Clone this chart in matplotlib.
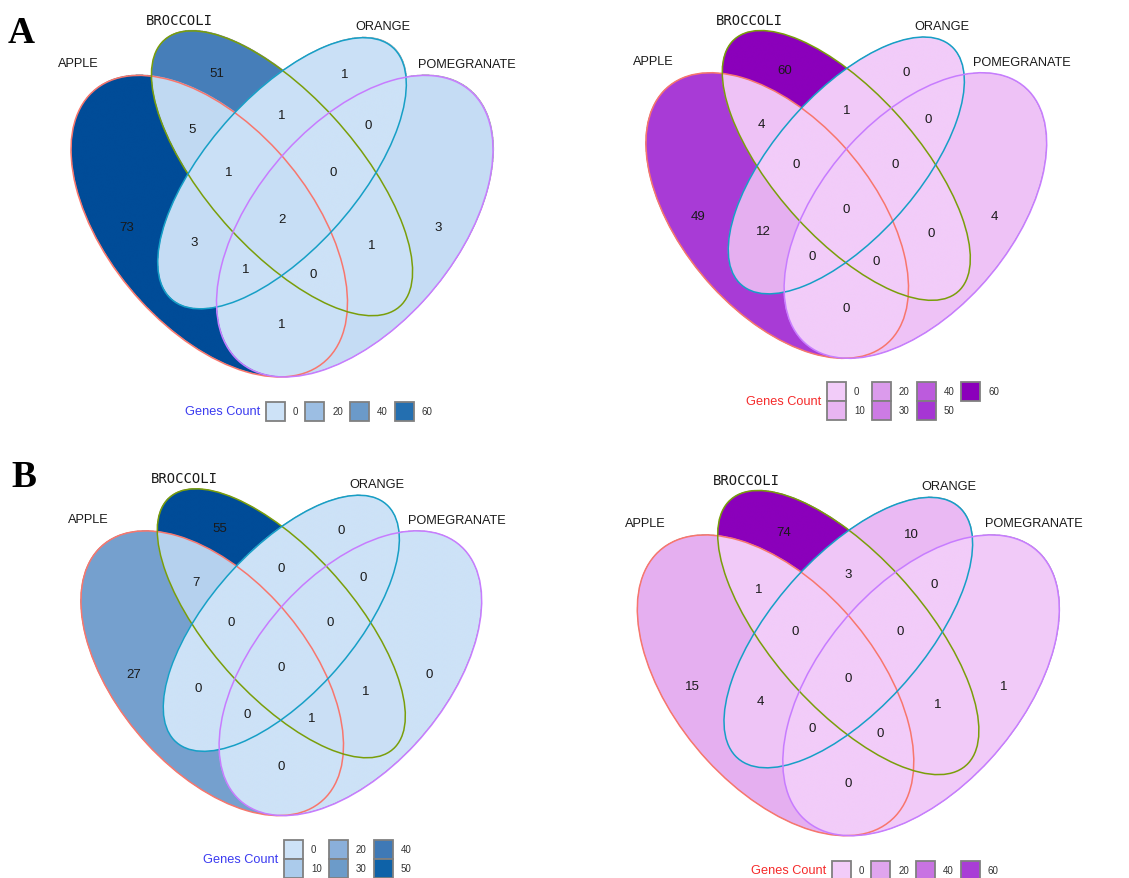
import numpy as np
import matplotlib
matplotlib.use("Agg")
import matplotlib.pyplot as plt
from matplotlib.patches import Ellipse, Rectangle
from matplotlib.colors import LinearSegmentedColormap, Normalize

W, H, DPI = 1129, 879, 100

# ---- sets and four-ellipse geometry (x, y, semi-axes, rotation) ----
set_names = ["APPLE", "BROCCOLI", "ORANGE", "POMEGRANATE"]
ell_x = [0.35, 0.50, 0.50, 0.65]
ell_y = [0.47, 0.57, 0.57, 0.47]
ell_a = [0.35, 0.35, 0.33, 0.35]
ell_b = [0.20, 0.15, 0.15, 0.20]
ell_rot = [135, 135, 45, 45]
edge_colors = ["#F8766D", "#7A9E0A", "#169FC6", "#C77CFF"]
label_x = [0.081, 0.289, 0.708, 0.882]
label_y = [0.778, 0.860, 0.848, 0.777]
label_fonts = ["Liberation Sans", "DejaVu Sans Mono", "Liberation Sans", "Liberation Sans"]

# ---- region order (A=apple, B=broccoli, O=orange, P=pomegranate) ----
regions = ["A", "B", "O", "P", "AB", "AO", "AP", "BO", "BP", "OP",
           "ABO", "ABP", "AOP", "BOP", "ABOP"]
# anchor point of each region's count label
region_lx = [0.179, 0.366, 0.630, 0.821, 0.315, 0.319, 0.500, 0.500, 0.684, 0.678,
             0.391, 0.565, 0.426, 0.606, 0.500]
region_ly = [0.469, 0.760, 0.757, 0.469, 0.653, 0.440, 0.285, 0.681, 0.435, 0.662,
             0.573, 0.380, 0.389, 0.573, 0.483]

counts_a_blue = [73, 51, 1, 3, 5, 3, 1, 1, 1, 0, 1, 0, 1, 0, 2]
counts_a_purple = [49, 60, 0, 4, 4, 12, 0, 1, 0, 0, 0, 0, 0, 0, 0]
counts_b_blue = [27, 55, 0, 0, 7, 0, 0, 0, 1, 0, 0, 1, 0, 0, 0]
counts_b_purple = [15, 74, 10, 1, 1, 4, 0, 3, 1, 0, 0, 0, 0, 0, 0]

breaks_a_blue = [0, 20, 40, 60]
breaks_a_purple = [0, 10, 20, 30, 40, 50, 60]
breaks_b_blue = [0, 10, 20, 30, 40, 50]
breaks_b_purple = [0, 20, 40, 60]

blue_cmap = LinearSegmentedColormap.from_list("genes_blue", [
    (0.00, "#CDE2F7"), (0.18, "#ABCBEB"), (0.27, "#9DBFE3"), (0.36, "#8BB0DA"),
    (0.55, "#6B9AC9"), (0.73, "#3F79B6"), (0.82, "#2570B0"), (0.91, "#0E62A8"),
    (1.00, "#004C98")])
purple_cmap = LinearSegmentedColormap.from_list("genes_purple", [
    (0.00, "#F2CCF9"), (0.167, "#E8B5F2"), (0.33, "#DB9CEC"), (0.50, "#CC7BE4"),
    (0.67, "#BC5ADD"), (0.82, "#A83BD6"), (1.00, "#8B00BB")])

# panel placement: pixel origin of data (0,0) and pixels per data unit
panels = [
    dict(counts=counts_a_blue, cmap=blue_cmap, breaks=breaks_a_blue, nrow=1,
         x0=39.5, sx=485.0, y0=475.8, sy=529.0,
         leg_x=266, leg_y=403, title_color="#3A3AF0"),
    dict(counts=counts_a_purple, cmap=purple_cmap, breaks=breaks_a_purple, nrow=2,
         x0=616.0, sx=460.6, y0=452.0, sy=501.0,
         leg_x=827, leg_y=383, title_color="#F52A2A"),
    dict(counts=counts_b_blue, cmap=blue_cmap, breaks=breaks_b_blue, nrow=2,
         x0=51.0, sx=460.6, y0=909.0, sy=499.5,
         leg_x=284, leg_y=841, title_color="#3A3AF0"),
    dict(counts=counts_b_purple, cmap=purple_cmap, breaks=breaks_b_purple, nrow=1,
         x0=605.8, sx=485.0, y0=934.3, sy=527.6,
         leg_x=832, leg_y=862, title_color="#F52A2A"),
]

fig = plt.figure(figsize=(W / DPI, H / DPI), dpi=DPI)
fig.patch.set_facecolor("white")

# membership grid in data space
gx = np.linspace(0.04, 0.96, 1400)
gy = np.linspace(0.16, 0.86, 1100)
XX, YY = np.meshgrid(gx, gy)
inside = []
for cx, cy, a, b, r in zip(ell_x, ell_y, ell_a, ell_b, ell_rot):
    t = np.deg2rad(r)
    dx, dy = XX - cx, YY - cy
    u = dx * np.cos(t) + dy * np.sin(t)
    v = -dx * np.sin(t) + dy * np.cos(t)
    inside.append((u / a) ** 2 + (v / b) ** 2 <= 1.0)
letters = "ABOP"
region_masks = []
for name in regions:
    m = np.ones_like(XX, dtype=bool)
    for k, L in enumerate(letters):
        m &= inside[k] if L in name else ~inside[k]
    region_masks.append(m)

for p in panels:
    left, right = p["x0"], p["x0"] + p["sx"]
    bottom, top = p["y0"], p["y0"] - p["sy"]
    ax = fig.add_axes([left / W, 1 - bottom / H, (right - left) / W, (bottom - top) / H])
    ax.set_xlim(0, 1)
    ax.set_ylim(0, 1)
    ax.axis("off")
    ax.patch.set_alpha(0)

    counts = p["counts"]
    norm = Normalize(vmin=0, vmax=max(counts))
    p["norm"] = norm
    rgba = np.zeros(XX.shape + (4,))
    for m, c in zip(region_masks, counts):
        rgba[m] = p["cmap"](norm(c))
    ax.imshow(rgba, extent=(gx[0], gx[-1], gy[0], gy[-1]), origin="lower",
              aspect="auto", interpolation="antialiased", zorder=1)

    for cx, cy, a, b, r, ec in zip(ell_x, ell_y, ell_a, ell_b, ell_rot, edge_colors):
        ax.add_patch(Ellipse((cx, cy), 2 * a, 2 * b, angle=r, fill=False,
                             ec=ec, lw=1.1, zorder=3))

    for lx, ly, c in zip(region_lx, region_ly, counts):
        ax.text(lx, ly, str(c), ha="center", va="center", fontsize=9.5,
                family="Liberation Sans", color="#1a1a1a", zorder=4)

    for name, lx, ly, fam in zip(set_names, label_x, label_y, label_fonts):
        ax.text(lx, ly, name, ha="center", va="center",
                fontsize=10 if fam.startswith("DejaVu") else 9.2,
                family=fam, color="#1a1a1a", zorder=4, clip_on=False)

# overlay in pixel coordinates for legends and panel letters
ov = fig.add_axes([0, 0, 1, 1])
ov.set_xlim(0, W)
ov.set_ylim(H, 0)
ov.axis("off")
ov.patch.set_alpha(0)

KEY = 19.0
for p in panels:
    breaks, nrow = p["breaks"], p["nrow"]
    ncol = int(np.ceil(len(breaks) / nrow))
    x = p["leg_x"]
    for ci in range(ncol):
        col_vals = breaks[ci * nrow:(ci + 1) * nrow]
        maxw = max(len(str(v)) for v in col_vals) * 5.4
        for ri, v in enumerate(col_vals):
            y = p["leg_y"] + ri * KEY
            ov.add_patch(Rectangle((x, y), KEY, KEY, fc=p["cmap"](p["norm"](v)),
                                   ec="#808080", lw=1.3))
            ov.text(x + KEY + 8, y + KEY / 2, str(v), ha="left", va="center",
                    fontsize=7, family="Liberation Sans", color="#333333")
        x += KEY + 9 + maxw + 6
    ov.text(p["leg_x"] - 6, p["leg_y"] + nrow * KEY / 2, "Genes Count",
            ha="right", va="center", fontsize=9.2, family="Liberation Sans",
            color=p["title_color"])

ov.text(8, 43, "A", ha="left", va="baseline", fontsize=27, weight="bold",
        family="Liberation Serif", color="black")
ov.text(11, 487, "B", ha="left", va="baseline", fontsize=27, weight="bold",
        family="Liberation Serif", color="black")

fig.savefig("out.png", dpi=DPI)
